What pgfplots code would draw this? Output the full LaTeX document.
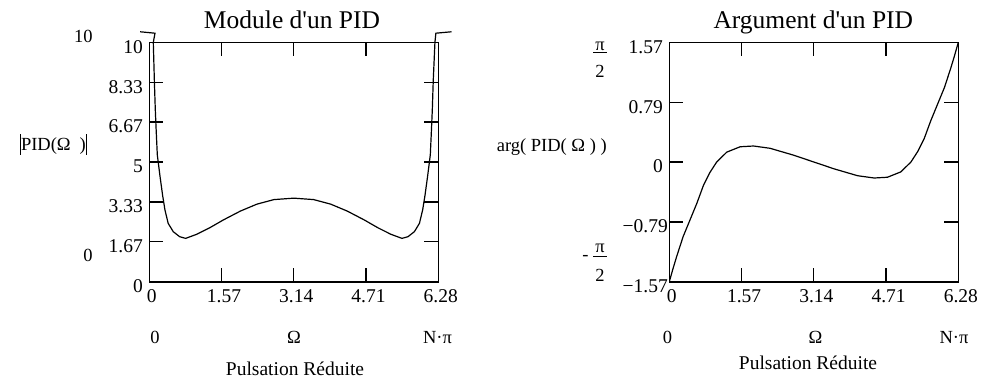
\documentclass[border=0pt]{standalone}
\usepackage{fontspec}
\setmainfont{Liberation Serif}[Ligatures=TeXOff]
\usepackage{pgfplots}
\usepackage{pgfplotstable}
\pgfplotsset{compat=1.18}

\pgfplotstableread{
x y
-0.20 10.44
0.124 10.38
0.087 10.0
0.11 8.4
0.13 7.2
0.15 6.3
0.174 5.3
0.233 4.40
0.29 3.60
0.34 3.00
0.41 2.44
0.52 2.09
0.66 1.88
0.79 1.81
1.03 1.98
1.32 2.26
1.61 2.58
1.98 2.95
2.34 3.24
2.71 3.43
3.1416 3.49
3.5732 3.43
3.9432 3.24
4.3032 2.95
4.6732 2.58
4.9632 2.26
5.2532 1.98
5.4932 1.81
5.6232 1.88
5.7632 2.09
5.8732 2.44
5.9432 3.00
5.9932 3.60
6.0502 4.40
6.1092 5.30
6.1332 6.30
6.1532 7.20
6.1732 8.40
6.2100 10.0
6.23 10.38
6.57 10.44
}\modtable

\pgfplotstableread{
x y
0 -1.5708
0.08 -1.40
0.16 -1.24
0.30 -0.98
0.45 -0.76
0.60 -0.54
0.74 -0.31
0.88 -0.14
1.03 0.0
1.25 0.13
1.54 0.20
1.83 0.21
2.19 0.18
2.70 0.09
3.1416 0.0
3.5832 -0.09
4.0932 -0.18
4.4532 -0.21
4.7432 -0.20
5.0332 -0.13
5.2532 0.0
5.4032 0.14
5.5432 0.31
5.6832 0.54
5.8332 0.76
5.9832 0.98
6.1232 1.24
6.2032 1.40
6.2832 1.5708
}\argtable

\pgfplotsset{
  mcad/.style={
    scale only axis, width=289pt, height=239.4pt, anchor=south west,
    axis line style={line width=1.6pt},
    tick style={line width=1.3pt, black},
    tick align=inside, tick pos=both, major tick length=14pt,
    /pgf/number format/assume math mode=true,
    tick label style={font=\fontsize{19.5}{21}\selectfont},
    xmin=0, xmax=6.2832,
    xtick={0,1.5708,3.1416,4.7124,6.2832},
    xticklabels={0,1.57,3.14,4.71,6.28},
    xticklabel style={xshift=2.5pt, yshift=-4pt},
    yticklabel style={xshift=-3pt, yshift=-4.5pt},
  }
}

\begin{document}
\begin{tikzpicture}[font=\fontsize{18.5}{20}\selectfont]
\useasboundingbox (0,0) rectangle (981pt,-380pt);

% left axis
\begin{axis}[mcad, at={(149.3pt,-281.7pt)}, clip=false,
  ymin=0, ymax=10,
  ytick={0,1.6667,3.3333,5,6.6667,8.3333,10},
  yticklabels={0,1.67,3.33,5,6.67,8.33,10}]
\addplot[black, line width=1.2pt] table[x=x,y=y] {\modtable};
\end{axis}

% right axis
\begin{axis}[mcad, at={(669.3pt,-281.7pt)},
  ymin=-1.5708, ymax=1.5708,
  ytick={-1.5708,-0.7854,0,0.7854,1.5708},
  yticklabels={−1.57\kern-5pt,−0.79\kern-5pt,0,0.79,1.57}]
\addplot[black, line width=1.2pt] table[x=x,y=y] {\argtable};
\end{axis}

% titles
\node[anchor=base, font=\fontsize{25.5}{28}\selectfont] at (292pt,-28.3pt) {Module d'un PID};
\node[anchor=base, font=\fontsize{25.5}{28}\selectfont] at (813.3pt,-28.3pt) {Argument d'un PID};

% left side annotations
\node[anchor=east, inner sep=0pt] at (92.7pt,-36pt) {10};
\node[anchor=east, inner sep=0pt] at (92.7pt,-255.7pt) {0};
\node[anchor=east, inner sep=0pt] at (87pt,-144pt) {\rule[-4.5pt]{0.9pt}{21pt}PID(Ω\hspace{9pt})\rule[-4.5pt]{0.9pt}{21pt}};

% right side annotations
\node[anchor=east, inner sep=0pt] at (607pt,-147pt) {arg( PID( Ω ) )};
\node[anchor=base, inner sep=0pt] at (600pt,-50pt) {π};
\draw[line width=0.8pt] (593pt,-52pt) -- (607pt,-52pt);
\node[anchor=base, inner sep=0pt] at (600pt,-77pt) {2};
\node[anchor=base, inner sep=0pt] at (585.5pt,-260.5pt) {-};
\node[anchor=base, inner sep=0pt] at (600pt,-252pt) {π};
\draw[line width=0.8pt] (593pt,-256pt) -- (607pt,-256pt);
\node[anchor=base, inner sep=0pt] at (600pt,-281.7pt) {2};

% x annotations left
\node[anchor=base, inner sep=0pt] at (155pt,-343.3pt) {0};
\node[anchor=base, inner sep=0pt] at (294pt,-343.3pt) {Ω};
\node[anchor=base, inner sep=0pt] at (437.5pt,-343.3pt) {N·π};
\node[anchor=base, inner sep=0pt, font=\fontsize{19.5}{22}\selectfont] at (295pt,-375pt) {Pulsation Réduite};

% x annotations right
\node[anchor=base, inner sep=0pt] at (667.5pt,-343.3pt) {0};
\node[anchor=base, inner sep=0pt] at (815.5pt,-343.3pt) {Ω};
\node[anchor=base, inner sep=0pt] at (954pt,-343.3pt) {N·π};
\node[anchor=base, inner sep=0pt, font=\fontsize{19.5}{22}\selectfont] at (808pt,-369.3pt) {Pulsation Réduite};
\end{tikzpicture}
\end{document}
